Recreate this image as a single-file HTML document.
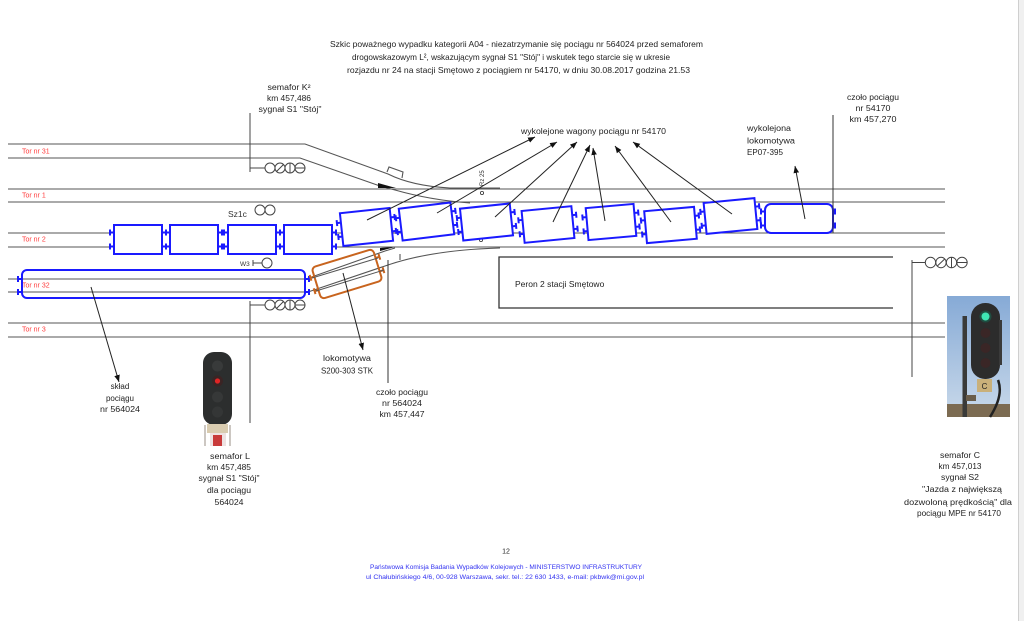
<!DOCTYPE html>
<html><head><meta charset="utf-8"><style>
html,body{margin:0;padding:0;background:#fff;}
svg{display:block;}
text{font-family:"Liberation Sans",sans-serif;}
</style></head><body>
<svg width="1024" height="621" viewBox="0 0 1024 621" xmlns="http://www.w3.org/2000/svg">
<defs>
<marker id="ah" viewBox="0 0 10 10" refX="10" refY="5" markerWidth="7" markerHeight="7" orient="auto" markerUnits="userSpaceOnUse"><path d="M0,1 L10,5 L0,9 z" fill="#111"/></marker>
<linearGradient id="sky" x1="0" y1="0" x2="0" y2="1"><stop offset="0" stop-color="#86aad6"/><stop offset="1" stop-color="#c9d9ea"/></linearGradient>
</defs>
<rect width="1024" height="621" fill="#fff"/>
<rect x="1018" y="0" width="6" height="621" fill="#f0f0f0"/>
<line x1="1018.5" y1="0" x2="1018.5" y2="621" stroke="#cfcfcf" stroke-width="1"/>

<!-- Title -->
<g font-size="8.5" fill="#222">
<text x="330" y="47" textLength="373" lengthAdjust="spacingAndGlyphs">Szkic poważnego wypadku kategorii A04 - niezatrzymanie się pociągu nr 564024 przed semaforem</text>
<text x="352" y="60" textLength="318" lengthAdjust="spacingAndGlyphs">drogowskazowym L², wskazującym sygnał S1 "Stój" i wskutek tego starcie się w ukresie</text>
<text x="347" y="73" textLength="343" lengthAdjust="spacingAndGlyphs">rozjazdu nr 24 na stacji Smętowo z pociągiem nr 54170, w dniu 30.08.2017 godzina 21.53</text>
</g>

<!-- Tracks -->
<g stroke="#555" stroke-width="1.1" fill="none">
<path d="M8,144 H305 L388,174 Q412,186 450,188 H500"/>
<path d="M8,158 H300 L380,186 L395,190 Q430,200 470,203"/>
<path d="M8,189 H945"/><path d="M8,202 H945"/>
<path d="M8,233 H945"/><path d="M8,247 H945"/>
<path d="M8,279 H306 L385,251 L395,248"/>
<path d="M8,292 H308 L385,266 Q430,250 500,248"/>
<path d="M8,323 H945"/><path d="M8,337 H945"/>
<path d="M387,172 L389,167 L403,172 L402,178"/>
<path d="M400,254 V260"/>
</g>
<polygon points="378,183 396,188 378,188" fill="#111"/>
<polygon points="380,251 395,247 380,248" fill="#111"/>

<!-- Track labels -->
<g font-size="7" fill="#ff3b3b">
<text x="22" y="153.5">Tor nr 31</text>
<text x="22" y="197.5">Tor nr 1</text>
<text x="22" y="241.5">Tor nr 2</text>
<text x="22" y="287.5">Tor nr 32</text>
<text x="22" y="331.5">Tor nr 3</text>
</g>

<!-- Platform -->
<path d="M893,257 H499 V308 H893" stroke="#333" stroke-width="1.3" fill="none"/>
<text x="515" y="287" font-size="8.5" fill="#222">Peron 2 stacji Smętowo</text>

<!-- Rz labels -->
<g font-size="6" fill="#333">
<text transform="translate(484,186) rotate(-90)">Rz 25</text>
<text transform="translate(484,233) rotate(-90)">Rz 24</text>
</g>
<circle cx="482" cy="193" r="1.6" fill="none" stroke="#333" stroke-width="0.8"/>
<circle cx="481" cy="240" r="1.6" fill="none" stroke="#333" stroke-width="0.8"/>

<!-- Signals -->
<g stroke="#444" stroke-width="1" fill="none">
<!-- K2 -->
<path d="M250,113 V168 H265 M250,164 V172"/>
<circle cx="270" cy="168" r="5"/><circle cx="280" cy="168" r="5"/><circle cx="290" cy="168" r="5"/><circle cx="300" cy="168" r="5"/>
<path d="M276.5,171.5 L283.5,164.5 M290,163 V173 M295,168 H305"/>
<!-- L -->
<path d="M250,423 V305 H265 M250,301 V309"/>
<circle cx="270" cy="305" r="5"/><circle cx="280" cy="305" r="5"/><circle cx="290" cy="305" r="5"/><circle cx="300" cy="305" r="5"/>
<path d="M276.5,308.5 L283.5,301.5 M290,300 V310 M295,305 H305"/>
<!-- C -->
<path d="M912,260 V377 M912,262.5 H925"/>
<circle cx="930.5" cy="262.5" r="5.2"/><circle cx="941" cy="262.5" r="5.2"/><circle cx="951.5" cy="262.5" r="5.2"/><circle cx="962" cy="262.5" r="5.2"/>
<path d="M937.3,266 L944.7,259 M951.5,257.3 V267.7 M956.8,262.5 H967.2"/>
<!-- Sz1c -->
<circle cx="260" cy="210" r="5"/><circle cx="270" cy="210" r="5"/>
<!-- W3 -->
<path d="M253,263 H262 M253,260 V266"/>
<circle cx="267" cy="263" r="5"/>
</g>
<text x="228" y="217" font-size="8.5" fill="#333">Sz1c</text>
<text x="240" y="266" font-size="6.5" fill="#333">W3</text>

<!-- Cars (blue) -->
<g stroke="#1a1aff" stroke-width="2" fill="#fff">
<g transform="translate(138,239.5)"><rect x="-24" y="-14.5" width="48" height="29"/><path d="M-24,-7 h-4 M-28,-10 v6 M-24,7 h-4 M-28,4 v6 M24,-7 h4 M28,-10 v6 M24,7 h4 M28,4 v6" fill="none"/></g>
<g transform="translate(194,239.5)"><rect x="-24" y="-14.5" width="48" height="29"/><path d="M-24,-7 h-4 M-28,-10 v6 M-24,7 h-4 M-28,4 v6 M24,-7 h4 M28,-10 v6 M24,7 h4 M28,4 v6" fill="none"/></g>
<g transform="translate(252,239.5)"><rect x="-24" y="-14.5" width="48" height="29"/><path d="M-24,-7 h-4 M-28,-10 v6 M-24,7 h-4 M-28,4 v6 M24,-7 h4 M28,-10 v6 M24,7 h4 M28,4 v6" fill="none"/></g>
<g transform="translate(308,239.5)"><rect x="-24" y="-14.5" width="48" height="29"/><path d="M-24,-7 h-4 M-28,-10 v6 M-24,7 h-4 M-28,4 v6 M24,-7 h4 M28,-10 v6 M24,7 h4 M28,4 v6" fill="none"/></g>

<g fill="none">
<rect x="22" y="270" width="283" height="28" rx="5"/>
<path d="M22,279 h-4 M18,276 v6 M22,292 h-4 M18,289 v6 M305,279 h4 M309,276 v6 M305,292 h4 M309,289 v6"/>
</g>

<g transform="translate(366.5,227) rotate(-6)"><rect x="-25" y="-16.5" width="50" height="33"/><path d="M-25,-7 h-4 M-29,-10 v6 M-25,7 h-4 M-29,4 v6 M25,-7 h4 M29,-10 v6 M25,7 h4 M29,4 v6" fill="none"/></g>
<g transform="translate(426.5,221.5) rotate(-7)"><rect x="-26" y="-16" width="52" height="32"/><path d="M-26,-7 h-4 M-30,-10 v6 M-26,7 h-4 M-30,4 v6 M26,-7 h4 M30,-10 v6 M26,7 h4 M30,4 v6" fill="none"/></g>
<g transform="translate(486.5,222) rotate(-6)"><rect x="-25" y="-16" width="50" height="32"/><path d="M-25,-7 h-4 M-29,-10 v6 M-25,7 h-4 M-29,4 v6 M25,-7 h4 M29,-10 v6 M25,7 h4 M29,4 v6" fill="none"/></g>
<g transform="translate(548,224.5) rotate(-5.5)"><rect x="-25" y="-16" width="50" height="32"/><path d="M-25,-7 h-4 M-29,-10 v6 M-25,7 h-4 M-29,4 v6 M25,-7 h4 M29,-10 v6 M25,7 h4 M29,4 v6" fill="none"/></g>
<g transform="translate(611,222) rotate(-5)"><rect x="-24" y="-16" width="48" height="32"/><path d="M-24,-7 h-4 M-28,-10 v6 M-24,7 h-4 M-28,4 v6 M24,-7 h4 M28,-10 v6 M24,7 h4 M28,4 v6" fill="none"/></g>
<g transform="translate(670.5,225) rotate(-5)"><rect x="-25" y="-16" width="50" height="32"/><path d="M-25,-7 h-4 M-29,-10 v6 M-25,7 h-4 M-29,4 v6 M25,-7 h4 M29,-10 v6 M25,7 h4 M29,4 v6" fill="none"/></g>
<g transform="translate(730.5,216) rotate(-5.5)"><rect x="-25.5" y="-15.5" width="51" height="31"/><path d="M-25.5,-7 h-4 M-29.5,-10 v6 M-25.5,7 h-4 M-29.5,4 v6 M25.5,-7 h4 M29.5,-10 v6 M25.5,7 h4 M29.5,4 v6" fill="none"/></g>
<g transform="translate(799,218.5)"><rect x="-34" y="-14.5" width="68" height="29" rx="6"/><path d="M-34,-7 h-4 M-38,-10 v6 M-34,7 h-4 M-38,4 v6 M34,-7 h2 M36,-10 v6 M34,7 h2 M36,4 v6" fill="none"/></g>
</g>

<!-- Orange locomotive -->
<g transform="translate(347,274) rotate(-17)" stroke="#c8641e" stroke-width="2" fill="none">
<rect x="-32" y="-16.5" width="64" height="33" rx="4"/>
<path d="M-32,-7 h-4 M-36,-10 v6 M-32,7 h-4 M-36,4 v6 M32,-7 h4 M36,-10 v6 M32,7 h4 M36,4 v6"/>
</g>
<g stroke="#555" stroke-width="1" fill="none">
<path d="M312,278 L378,258"/><path d="M316,291 L384,270"/>
</g>

<!-- Leader lines -->
<g stroke="#222" stroke-width="1" fill="none" marker-end="url(#ah)">
<line x1="367" y1="220" x2="535" y2="137"/>
<line x1="437" y1="213" x2="557" y2="142"/>
<line x1="495" y1="217" x2="577" y2="142"/>
<line x1="553" y1="222" x2="590" y2="145"/>
<line x1="605" y1="221" x2="593" y2="148"/>
<line x1="671" y1="222" x2="615" y2="146"/>
<line x1="732" y1="214" x2="633" y2="142"/>
<line x1="805" y1="219" x2="795" y2="166"/>
<line x1="91" y1="287" x2="119" y2="382"/>
<line x1="343" y1="273" x2="363" y2="350"/>
</g>
<g stroke="#333" stroke-width="1">
<line x1="833" y1="115" x2="833" y2="233"/>
<line x1="388" y1="260" x2="388" y2="383"/>
</g>

<!-- Labels -->
<g font-size="8" fill="#222" text-anchor="middle">
<text x="289" y="90" textLength="43" lengthAdjust="spacingAndGlyphs">semafor K²</text>
<text x="289" y="101" textLength="44" lengthAdjust="spacingAndGlyphs">km 457,486</text>
<text x="290" y="112" textLength="63" lengthAdjust="spacingAndGlyphs">sygnał S1 "Stój"</text>

<text x="873" y="100" textLength="52" lengthAdjust="spacingAndGlyphs">czoło pociągu</text>
<text x="873" y="111" textLength="35" lengthAdjust="spacingAndGlyphs">nr 54170</text>
<text x="873" y="122" textLength="47" lengthAdjust="spacingAndGlyphs">km 457,270</text>

<text x="120" y="389">skład</text>
<text x="120" y="401">pociągu</text>
<text x="120" y="412" textLength="40" lengthAdjust="spacingAndGlyphs">nr 564024</text>

<text x="347" y="361" textLength="48" lengthAdjust="spacingAndGlyphs">lokomotywa</text>
<text x="347" y="373.5" textLength="52" lengthAdjust="spacingAndGlyphs">S200-303 STK</text>

<text x="402" y="395" textLength="52" lengthAdjust="spacingAndGlyphs">czoło pociągu</text>
<text x="402" y="406" textLength="40" lengthAdjust="spacingAndGlyphs">nr 564024</text>
<text x="402" y="417" textLength="45" lengthAdjust="spacingAndGlyphs">km 457,447</text>

<text x="230" y="459" textLength="40" lengthAdjust="spacingAndGlyphs">semafor L</text>
<text x="229" y="470" textLength="44" lengthAdjust="spacingAndGlyphs">km 457,485</text>
<text x="229" y="481" textLength="61" lengthAdjust="spacingAndGlyphs">sygnał S1 "Stój"</text>
<text x="229" y="493" textLength="44" lengthAdjust="spacingAndGlyphs">dla pociągu</text>
<text x="229" y="505" textLength="29" lengthAdjust="spacingAndGlyphs">564024</text>

<text x="960" y="458" textLength="40" lengthAdjust="spacingAndGlyphs">semafor C</text>
<text x="960" y="469" textLength="43" lengthAdjust="spacingAndGlyphs">km 457,013</text>
<text x="960" y="480" textLength="38" lengthAdjust="spacingAndGlyphs">sygnał S2</text>
<text x="962" y="492" textLength="80" lengthAdjust="spacingAndGlyphs">"Jazda z największą</text>
<text x="958" y="505" textLength="108" lengthAdjust="spacingAndGlyphs">dozwoloną prędkością" dla</text>
<text x="959" y="516" textLength="84" lengthAdjust="spacingAndGlyphs">pociągu MPE nr 54170</text>
</g>
<g font-size="8" fill="#222">
<text x="521" y="134" textLength="145" lengthAdjust="spacingAndGlyphs">wykolejone wagony pociągu nr 54170</text>
<text x="747" y="131" textLength="44" lengthAdjust="spacingAndGlyphs">wykolejona</text>
<text x="747" y="143.5" textLength="48" lengthAdjust="spacingAndGlyphs">lokomotywa</text>
<text x="747" y="155" textLength="36" lengthAdjust="spacingAndGlyphs">EP07-395</text>
</g>

<!-- Signal L photo -->
<g>
<rect x="203" y="352" width="29" height="73" rx="11" fill="#2c2e2e"/>
<circle cx="217.5" cy="366" r="5.5" fill="#383a3a"/>
<circle cx="217.5" cy="381" r="5.5" fill="#3a2424"/>
<circle cx="217.5" cy="381" r="2.6" fill="#e02525"/>
<circle cx="217.5" cy="397" r="5.5" fill="#363838"/>
<circle cx="217.5" cy="412" r="5.5" fill="#343636"/>
<rect x="207" y="424" width="21" height="9" fill="#d9ccb0"/>
<rect x="210" y="433" width="16" height="13" fill="#eee2e2"/>
<rect x="213" y="435" width="9" height="11" fill="#c83a3a"/>
<line x1="205" y1="425" x2="205" y2="446" stroke="#9a8f86" stroke-width="1"/>
<line x1="230" y1="425" x2="230" y2="446" stroke="#9a8f86" stroke-width="1"/>
</g>

<!-- Signal C photo -->
<g>
<rect x="947" y="296" width="63" height="121" fill="url(#sky)"/>
<rect x="947" y="404" width="63" height="13" fill="#7c6b52"/>
<rect x="962.5" y="316" width="4.5" height="101" fill="#3a3a38"/>
<rect x="966" y="395" width="10" height="6" fill="#6a5d4a"/>
<rect x="971" y="303" width="29" height="76" rx="14" fill="#2c2c2c"/>
<rect x="999" y="320" width="3" height="45" fill="#3a3a3a"/>
<circle cx="985.5" cy="316.5" r="6" fill="#1f4c40"/>
<circle cx="985.5" cy="316.5" r="4" fill="#3fe6b4"/>
<circle cx="985.5" cy="333" r="5" fill="#3a2626"/>
<circle cx="985.5" cy="348" r="5" fill="#3a2626"/>
<circle cx="985.5" cy="363" r="5" fill="#3a2626"/>
<rect x="977" y="379" width="15" height="13" fill="#c9b07a"/>
<text x="984.5" y="389" font-size="8" fill="#222" text-anchor="middle">C</text>
<path d="M998,380 Q1004,395 990,417" stroke="#222" stroke-width="2.5" fill="none"/>
</g>

<!-- Footer -->
<text x="506" y="553.5" font-size="7" fill="#222" text-anchor="middle">12</text>
<g font-size="6.5" fill="#3232f0">
<text x="370" y="569" textLength="272" lengthAdjust="spacingAndGlyphs">Państwowa Komisja Badania Wypadków Kolejowych - MINISTERSTWO INFRASTRUKTURY</text>
<text x="366" y="579" textLength="278" lengthAdjust="spacingAndGlyphs">ul Chałubińskiego 4/6, 00-928 Warszawa, sekr. tel.: 22 630 1433, e-mail: pkbwk@mi.gov.pl</text>
</g>
</svg>
</body></html>
